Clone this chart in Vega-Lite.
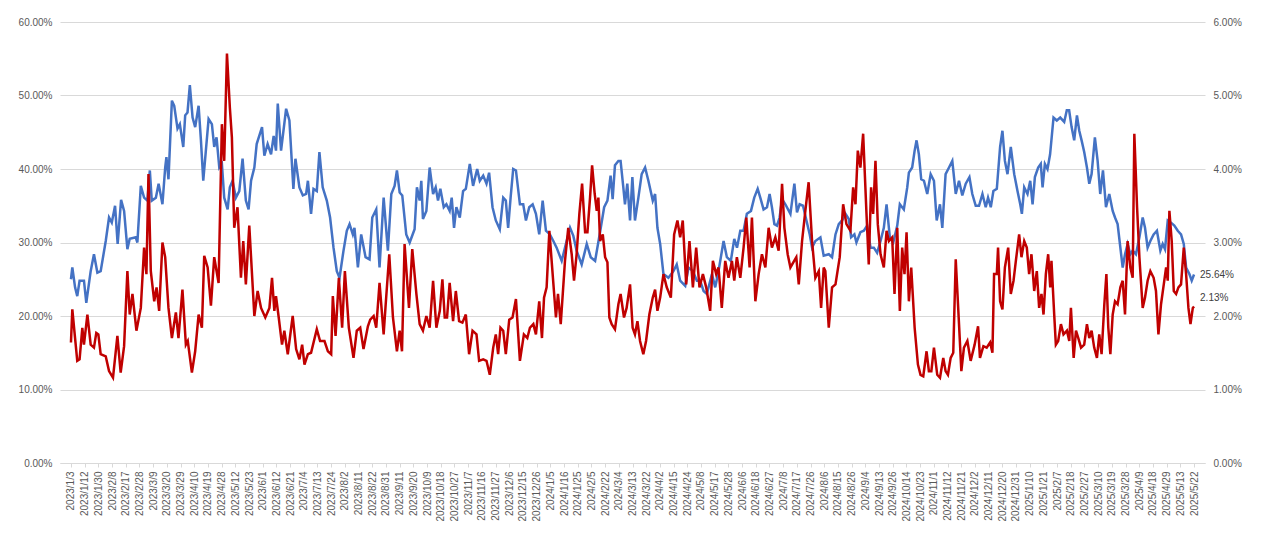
{
  "$schema": "https://vega.github.io/schema/vega-lite/v6.json",
  "width": 1145,
  "height": 441,
  "autosize": {"type": "none"},
  "padding": {"left": 60, "top": 22, "right": 75, "bottom": 81},
  "background": "white",
  "datasets": {
    "blue": [
      {"t":0,"v":25.0},{"t":0.1,"v":26.6},{"t":0.3,"v":23.9},{"t":0.46,"v":22.7},{"t":0.63,"v":24.8},{"t":0.95,"v":24.8},{"t":1.12,"v":21.8},{"t":1.44,"v":26.1},{"t":1.68,"v":28.4},{"t":1.93,"v":25.9},{"t":2.17,"v":26.1},{"t":2.54,"v":30.2},{"t":2.78,"v":33.4},{"t":2.98,"v":32.7},{"t":3.22,"v":35.0},{"t":3.41,"v":29.8},{"t":3.66,"v":35.8},{"t":3.88,"v":34.3},{"t":4.12,"v":29.1},{"t":4.29,"v":30.5},{"t":4.73,"v":30.7},{"t":4.85,"v":30.0},{"t":5.1,"v":37.7},{"t":5.34,"v":36.1},{"t":5.58,"v":35.7},{"t":5.76,"v":39.8},{"t":5.9,"v":35.7},{"t":6.2,"v":36.1},{"t":6.4,"v":38.0},{"t":6.68,"v":35.2},{"t":6.88,"v":40.2},{"t":6.97,"v":41.6},{"t":7.12,"v":38.6},{"t":7.37,"v":49.3},{"t":7.54,"v":48.6},{"t":7.78,"v":45.5},{"t":7.95,"v":46.1},{"t":8.2,"v":43.0},{"t":8.34,"v":47.3},{"t":8.51,"v":47.7},{"t":8.68,"v":51.4},{"t":8.88,"v":47.0},{"t":9.07,"v":45.7},{"t":9.32,"v":48.6},{"t":9.49,"v":43.9},{"t":9.66,"v":38.4},{"t":9.85,"v":42.5},{"t":10.05,"v":46.8},{"t":10.29,"v":46.1},{"t":10.46,"v":43.0},{"t":10.63,"v":44.3},{"t":10.83,"v":40.2},{"t":11.02,"v":40.7},{"t":11.19,"v":36.1},{"t":11.44,"v":34.5},{"t":11.6,"v":37.5},{"t":11.8,"v":38.4},{"t":12.04,"v":36.1},{"t":12.29,"v":37.0},{"t":12.53,"v":41.4},{"t":12.77,"v":35.7},{"t":12.97,"v":34.5},
      {"t":13.15,"v":38.4},{"t":13.39,"v":40.2},{"t":13.56,"v":43.4},{"t":13.95,"v":45.7},{"t":14.12,"v":41.8},{"t":14.36,"v":43.4},{"t":14.61,"v":42.0},{"t":14.8,"v":44.5},{"t":14.97,"v":42.5},{"t":15.1,"v":48.9},{"t":15.34,"v":42.5},{"t":15.71,"v":48.2},{"t":15.95,"v":46.6},{"t":16.24,"v":37.3},{"t":16.39,"v":41.4},{"t":16.68,"v":37.5},{"t":16.93,"v":36.4},{"t":17.17,"v":36.6},{"t":17.3,"v":38.4},{"t":17.53,"v":33.9},{"t":17.71,"v":37.3},{"t":17.95,"v":37.0},{"t":18.14,"v":42.3},{"t":18.38,"v":37.5},{"t":18.68,"v":35.7},{"t":18.92,"v":33.4},{"t":19.17,"v":29.3},{"t":19.41,"v":26.1},{"t":19.61,"v":25.2},{"t":19.9,"v":28.9},{"t":20.14,"v":31.6},{"t":20.34,"v":32.5},{"t":20.58,"v":31.1},{"t":20.7,"v":32.0},{"t":20.95,"v":26.6},{"t":21.19,"v":31.1},{"t":21.51,"v":28.0},{"t":21.8,"v":27.7},{"t":22.0,"v":33.4},{"t":22.29,"v":34.5},{"t":22.53,"v":26.6},{"t":22.83,"v":36.1},{"t":23.14,"v":28.9},{"t":23.39,"v":36.6},{"t":23.63,"v":37.7},{"t":23.8,"v":39.8},{"t":24.0,"v":36.8},{"t":24.19,"v":36.4},{"t":24.48,"v":31.1},{"t":24.73,"v":30.0},{"t":25.09,"v":31.8},{"t":25.26,"v":37.5},{"t":25.46,"v":35.7},{"t":25.58,"v":38.4},{"t":25.7,"v":33.2},{"t":25.95,"v":34.3},{"t":26.19,"v":40.2},
      {"t":26.44,"v":36.6},{"t":26.63,"v":37.5},{"t":26.8,"v":35.7},{"t":26.97,"v":37.3},{"t":27.22,"v":34.8},{"t":27.41,"v":35.2},{"t":27.65,"v":34.3},{"t":27.8,"v":36.1},{"t":27.97,"v":32.0},{"t":28.14,"v":34.8},{"t":28.39,"v":33.4},{"t":28.63,"v":37.0},{"t":28.83,"v":37.3},{"t":29.12,"v":40.7},{"t":29.36,"v":37.7},{"t":29.66,"v":40.0},{"t":29.85,"v":38.4},{"t":30.1,"v":39.1},{"t":30.34,"v":38.0},{"t":30.53,"v":39.5},{"t":30.78,"v":34.8},{"t":31.02,"v":33.0},{"t":31.31,"v":31.8},{"t":31.56,"v":36.1},{"t":31.75,"v":35.7},{"t":31.92,"v":32.0},{"t":32.1,"v":36.1},{"t":32.29,"v":40.0},{"t":32.49,"v":39.8},{"t":32.78,"v":35.2},{"t":33.02,"v":35.2},{"t":33.22,"v":33.0},{"t":33.46,"v":34.8},{"t":33.71,"v":35.2},{"t":33.95,"v":33.9},{"t":34.19,"v":31.1},{"t":34.44,"v":35.7},{"t":34.68,"v":31.6},{"t":34.97,"v":31.1},{"t":35.22,"v":30.2},{"t":35.46,"v":29.3},{"t":35.83,"v":27.5},{"t":36.19,"v":30.2},{"t":36.44,"v":32.0},{"t":36.68,"v":30.9},{"t":36.92,"v":28.9},{"t":37.29,"v":27.0},{"t":37.66,"v":29.8},{"t":37.95,"v":28.0},{"t":38.27,"v":27.5},{"t":38.63,"v":31.4},{"t":38.93,"v":34.8},{"t":39.17,"v":35.7},{"t":39.4,"v":39.1},
      {"t":39.55,"v":35.9},{"t":39.72,"v":40.5},{"t":39.97,"v":41.1},{"t":40.13,"v":41.1},{"t":40.33,"v":37.5},{"t":40.45,"v":35.2},{"t":40.62,"v":38.0},{"t":40.82,"v":33.0},{"t":40.99,"v":38.9},{"t":41.18,"v":33.0},{"t":41.43,"v":36.1},{"t":41.67,"v":39.3},{"t":41.92,"v":40.2},{"t":42.16,"v":38.4},{"t":42.48,"v":35.7},{"t":42.65,"v":36.6},{"t":42.82,"v":32.0},{"t":43.02,"v":29.8},{"t":43.26,"v":25.7},{"t":43.62,"v":25.2},{"t":43.99,"v":26.1},{"t":44.23,"v":27.0},{"t":44.48,"v":24.8},{"t":44.85,"v":24.1},{"t":45.09,"v":26.6},{"t":45.41,"v":26.1},{"t":45.7,"v":24.8},{"t":45.94,"v":24.8},{"t":46.19,"v":23.4},{"t":46.43,"v":23.0},{"t":46.8,"v":25.7},{"t":47.04,"v":23.9},{"t":47.28,"v":26.1},{"t":47.65,"v":30.2},{"t":47.89,"v":28.0},{"t":48.18,"v":27.5},{"t":48.43,"v":30.5},{"t":48.63,"v":29.3},{"t":48.87,"v":31.6},{"t":49.11,"v":31.6},{"t":49.35,"v":33.9},{"t":49.65,"v":34.3},{"t":49.89,"v":36.1},{"t":50.14,"v":37.3},{"t":50.33,"v":36.1},{"t":50.57,"v":34.5},{"t":50.82,"v":34.8},{"t":51.01,"v":36.6},{"t":51.18,"v":34.8},{"t":51.36,"v":32.5},{"t":51.55,"v":32.3},{"t":51.74,"v":33.4},{"t":51.92,"v":35.9},{"t":52.16,"v":35.2},{"t":52.53,"v":33.9},
      {"t":52.82,"v":38.0},{"t":53.01,"v":34.1},{"t":53.2,"v":35.2},{"t":53.45,"v":35.0},{"t":53.7,"v":33.0},{"t":53.94,"v":31.1},{"t":54.11,"v":29.3},{"t":54.35,"v":30.2},{"t":54.72,"v":30.7},{"t":54.96,"v":28.2},{"t":55.33,"v":28.4},{"t":55.57,"v":28.0},{"t":55.82,"v":31.1},{"t":56.06,"v":32.5},{"t":56.3,"v":33.0},{"t":56.55,"v":33.9},{"t":56.79,"v":33.2},{"t":56.96,"v":30.7},{"t":57.2,"v":31.1},{"t":57.35,"v":30.0},{"t":57.64,"v":31.4},{"t":57.89,"v":31.6},{"t":58.13,"v":32.3},{"t":58.38,"v":29.3},{"t":58.62,"v":29.3},{"t":58.86,"v":28.6},{"t":59.11,"v":30.2},{"t":59.35,"v":32.0},{"t":59.55,"v":35.2},{"t":59.79,"v":30.7},{"t":60.04,"v":30.0},{"t":60.33,"v":32.3},{"t":60.52,"v":35.2},{"t":60.81,"v":34.5},{"t":61.06,"v":37.5},{"t":61.18,"v":39.5},{"t":61.42,"v":40.2},{"t":61.6,"v":42.5},{"t":61.74,"v":43.9},{"t":61.91,"v":42.0},{"t":62.08,"v":38.6},{"t":62.28,"v":38.4},{"t":62.52,"v":36.6},{"t":62.77,"v":39.3},{"t":63.01,"v":38.4},{"t":63.21,"v":33.0},{"t":63.45,"v":35.2},{"t":63.62,"v":32.0},{"t":63.86,"v":39.3},{"t":64.11,"v":40.2},{"t":64.35,"v":41.1},{"t":64.6,"v":36.6},{"t":64.84,"v":38.4},{"t":65.08,"v":36.4},{"t":65.33,"v":38.0},{"t":65.6,"v":38.9},
      {"t":65.81,"v":36.6},{"t":66.06,"v":35.0},{"t":66.3,"v":35.0},{"t":66.55,"v":36.6},{"t":66.79,"v":34.8},{"t":66.96,"v":36.1},{"t":67.16,"v":34.8},{"t":67.35,"v":37.0},{"t":67.6,"v":37.3},{"t":67.84,"v":43.0},{"t":68.01,"v":45.2},{"t":68.19,"v":41.1},{"t":68.38,"v":39.3},{"t":68.62,"v":43.0},{"t":68.87,"v":39.3},{"t":69.11,"v":37.0},{"t":69.31,"v":35.2},{"t":69.43,"v":33.9},{"t":69.6,"v":37.5},{"t":69.84,"v":36.6},{"t":70.04,"v":38.4},{"t":70.21,"v":35.2},{"t":70.38,"v":38.9},{"t":70.62,"v":40.2},{"t":70.81,"v":40.7},{"t":70.94,"v":37.5},{"t":71.11,"v":40.7},{"t":71.3,"v":40.0},{"t":71.49,"v":42.0},{"t":71.74,"v":47.0},{"t":71.98,"v":46.6},{"t":72.23,"v":47.0},{"t":72.52,"v":46.4},{"t":72.71,"v":48.0},{"t":72.88,"v":48.0},{"t":73.06,"v":45.7},{"t":73.25,"v":43.9},{"t":73.45,"v":47.3},{"t":73.62,"v":45.2},{"t":73.79,"v":43.9},{"t":73.98,"v":42.3},{"t":74.18,"v":40.2},{"t":74.35,"v":38.0},{"t":74.52,"v":39.3},{"t":74.76,"v":44.3},{"t":74.96,"v":41.1},{"t":75.15,"v":36.6},{"t":75.35,"v":39.8},{"t":75.57,"v":34.8},{"t":75.81,"v":36.6},{"t":76.06,"v":34.3},{"t":76.23,"v":33.4},{"t":76.42,"v":32.5},{"t":76.62,"v":29.3},{"t":76.79,"v":26.6},{"t":76.96,"v":28.4},{"t":77.15,"v":29.8},{"t":77.35,"v":28.4},{"t":77.52,"v":28.9},{"t":77.76,"v":28.4},{"t":78.01,"v":30.7},{"t":78.25,"v":33.4},{"t":78.42,"v":32.0},{"t":78.61,"v":29.3},{"t":78.81,"v":30.2},{"t":79.05,"v":31.1},{"t":79.29,"v":31.6},{"t":79.54,"v":28.9},{"t":79.71,"v":29.8},{"t":79.88,"v":29.1},{"t":80.08,"v":33.0},{"t":80.32,"v":32.7},{"t":80.56,"v":32.3},{"t":80.81,"v":31.6},{"t":81.05,"v":31.1},{"t":81.25,"v":29.8},{"t":81.42,"v":26.6},{"t":81.66,"v":25.7},{"t":81.83,"v":24.8},{"t":82.0,"v":25.64}
    ],
    "red": [
      {"t":0,"v":1.64},{"t":0.1,"v":2.09},{"t":0.3,"v":1.70},{"t":0.46,"v":1.39},{"t":0.63,"v":1.41},{"t":0.83,"v":1.84},{"t":0.95,"v":1.61},{"t":1.2,"v":2.02},{"t":1.44,"v":1.61},{"t":1.68,"v":1.57},{"t":1.85,"v":1.77},{"t":2.0,"v":1.75},{"t":2.17,"v":1.48},{"t":2.54,"v":1.45},{"t":2.78,"v":1.25},{"t":3.07,"v":1.16},{"t":3.39,"v":1.73},{"t":3.63,"v":1.23},{"t":3.88,"v":1.59},{"t":4.12,"v":2.61},{"t":4.29,"v":2.02},{"t":4.49,"v":2.30},{"t":4.78,"v":1.80},{"t":5.1,"v":2.11},{"t":5.34,"v":2.93},{"t":5.51,"v":2.57},{"t":5.66,"v":3.93},{"t":5.83,"v":2.61},{"t":6.08,"v":2.20},{"t":6.25,"v":2.39},{"t":6.44,"v":2.07},{"t":6.68,"v":3.0},{"t":6.88,"v":2.80},{"t":7.12,"v":2.11},{"t":7.37,"v":1.70},{"t":7.66,"v":2.05},{"t":7.85,"v":1.70},{"t":8.14,"v":2.36},{"t":8.39,"v":1.61},{"t":8.53,"v":1.66},{"t":8.83,"v":1.23},{"t":9.07,"v":1.52},{"t":9.32,"v":2.02},{"t":9.56,"v":1.84},{"t":9.73,"v":2.82},{"t":9.98,"v":2.66},{"t":10.22,"v":2.14},{"t":10.46,"v":2.80},{"t":10.78,"v":2.45},{"t":11.02,"v":4.61},{"t":11.19,"v":4.11},{"t":11.39,"v":5.57},{"t":11.6,"v":4.84},{"t":11.75,"v":4.43},{"t":11.92,"v":3.20},{"t":12.16,"v":3.48},{"t":12.41,"v":2.52},{"t":12.58,"v":3.02},{"t":12.77,"v":2.43},{"t":13.02,"v":3.23},
      {"t":13.39,"v":2.0},{"t":13.63,"v":2.34},{"t":13.88,"v":2.11},{"t":14.19,"v":1.98},{"t":14.49,"v":2.11},{"t":14.68,"v":2.52},{"t":14.85,"v":2.07},{"t":14.97,"v":2.27},{"t":15.17,"v":1.98},{"t":15.41,"v":1.61},{"t":15.58,"v":1.80},{"t":15.83,"v":1.48},{"t":16.19,"v":2.0},{"t":16.44,"v":1.55},{"t":16.68,"v":1.41},{"t":16.88,"v":1.61},{"t":17.05,"v":1.34},{"t":17.3,"v":1.48},{"t":17.53,"v":1.50},{"t":17.95,"v":1.82},{"t":18.19,"v":1.66},{"t":18.51,"v":1.66},{"t":18.76,"v":1.52},{"t":19.0,"v":1.48},{"t":19.12,"v":2.27},{"t":19.32,"v":1.73},{"t":19.56,"v":2.52},{"t":19.8,"v":1.84},{"t":20.0,"v":2.61},{"t":20.29,"v":1.84},{"t":20.63,"v":1.43},{"t":20.87,"v":1.80},{"t":21.12,"v":1.84},{"t":21.36,"v":1.55},{"t":21.68,"v":1.86},{"t":21.85,"v":1.95},{"t":22.1,"v":2.0},{"t":22.29,"v":1.84},{"t":22.53,"v":2.45},{"t":22.83,"v":1.75},{"t":22.98,"v":2.16},{"t":23.24,"v":2.84},{"t":23.51,"v":1.98},{"t":23.8,"v":1.52},{"t":24.0,"v":1.80},{"t":24.17,"v":1.52},{"t":24.36,"v":2.98},{"t":24.68,"v":2.11},{"t":24.92,"v":2.91},{"t":25.22,"v":2.30},{"t":25.46,"v":1.89},{"t":25.7,"v":1.80},{"t":25.95,"v":2.0},{"t":26.19,"v":1.84},
      {"t":26.44,"v":2.48},{"t":26.68,"v":1.84},{"t":26.93,"v":2.07},{"t":27.12,"v":2.50},{"t":27.29,"v":1.98},{"t":27.46,"v":1.98},{"t":27.65,"v":2.45},{"t":27.9,"v":1.93},{"t":28.1,"v":2.34},{"t":28.34,"v":1.93},{"t":28.58,"v":1.91},{"t":28.83,"v":2.02},{"t":29.07,"v":1.48},{"t":29.32,"v":1.80},{"t":29.61,"v":1.75},{"t":29.8,"v":1.39},{"t":30.1,"v":1.41},{"t":30.34,"v":1.39},{"t":30.58,"v":1.20},{"t":30.83,"v":1.57},{"t":31.02,"v":1.75},{"t":31.19,"v":1.48},{"t":31.36,"v":1.84},{"t":31.56,"v":1.80},{"t":31.75,"v":1.48},{"t":32.0,"v":1.95},{"t":32.24,"v":1.98},{"t":32.49,"v":2.23},{"t":32.78,"v":1.39},{"t":33.07,"v":1.75},{"t":33.32,"v":1.70},{"t":33.51,"v":1.84},{"t":33.76,"v":1.89},{"t":33.95,"v":1.75},{"t":34.19,"v":2.20},{"t":34.39,"v":1.70},{"t":34.54,"v":2.25},{"t":34.73,"v":2.39},{"t":34.93,"v":3.16},{"t":35.17,"v":2.57},{"t":35.41,"v":1.98},{"t":35.56,"v":2.30},{"t":35.76,"v":1.89},{"t":36.07,"v":2.75},{"t":36.31,"v":3.20},{"t":36.56,"v":2.84},{"t":36.73,"v":2.48},{"t":36.92,"v":2.84},{"t":37.12,"v":3.39},{"t":37.32,"v":3.80},{"t":37.54,"v":3.14},{"t":37.71,"v":3.14},{"t":37.9,"v":3.61},{"t":38.05,"v":4.05},{"t":38.24,"v":3.66},{"t":38.39,"v":3.43},{"t":38.51,"v":3.61},{"t":38.63,"v":3.02},{"t":38.83,"v":3.11},{"t":39.0,"v":2.80},{"t":39.17,"v":2.73},{"t":39.31,"v":1.98},
      {"t":39.48,"v":1.89},{"t":39.72,"v":1.82},{"t":39.97,"v":2.16},{"t":40.13,"v":2.30},{"t":40.38,"v":1.98},{"t":40.57,"v":2.11},{"t":40.82,"v":2.43},{"t":41.01,"v":1.84},{"t":41.18,"v":1.75},{"t":41.36,"v":1.93},{"t":41.55,"v":1.66},{"t":41.79,"v":1.48},{"t":41.99,"v":1.66},{"t":42.23,"v":2.02},{"t":42.48,"v":2.25},{"t":42.65,"v":2.36},{"t":42.82,"v":2.07},{"t":43.02,"v":2.25},{"t":43.26,"v":2.57},{"t":43.5,"v":2.39},{"t":43.8,"v":2.25},{"t":44.04,"v":3.11},{"t":44.28,"v":3.30},{"t":44.48,"v":3.07},{"t":44.67,"v":3.30},{"t":44.92,"v":2.43},{"t":45.16,"v":3.02},{"t":45.41,"v":2.39},{"t":45.65,"v":2.93},{"t":45.89,"v":2.39},{"t":46.14,"v":2.57},{"t":46.38,"v":2.39},{"t":46.67,"v":2.07},{"t":46.87,"v":2.75},{"t":47.11,"v":2.57},{"t":47.28,"v":2.66},{"t":47.52,"v":2.11},{"t":47.77,"v":2.75},{"t":48.01,"v":2.52},{"t":48.26,"v":2.75},{"t":48.43,"v":2.48},{"t":48.62,"v":2.80},{"t":48.87,"v":2.52},{"t":49.11,"v":2.93},{"t":49.31,"v":3.34},{"t":49.55,"v":2.66},{"t":49.72,"v":3.34},{"t":49.97,"v":2.20},{"t":50.21,"v":2.57},{"t":50.45,"v":2.84},{"t":50.7,"v":2.66},{"t":50.94,"v":3.20},{"t":51.18,"v":2.93},{"t":51.43,"v":3.07},{"t":51.67,"v":2.89},{"t":51.92,"v":3.80},{"t":52.09,"v":3.20},{"t":52.33,"v":2.84},{"t":52.53,"v":2.66},
      {"t":52.96,"v":2.80},{"t":53.14,"v":2.43},{"t":53.38,"v":3.02},{"t":53.62,"v":3.43},{"t":53.86,"v":3.82},{"t":54.11,"v":3.02},{"t":54.35,"v":2.52},{"t":54.6,"v":2.61},{"t":54.77,"v":2.11},{"t":54.96,"v":2.66},{"t":55.08,"v":2.61},{"t":55.33,"v":1.84},{"t":55.57,"v":2.39},{"t":55.82,"v":2.43},{"t":56.13,"v":2.80},{"t":56.38,"v":3.52},{"t":56.62,"v":3.25},{"t":56.91,"v":3.16},{"t":57.11,"v":3.75},{"t":57.28,"v":3.52},{"t":57.45,"v":4.25},{"t":57.64,"v":4.02},{"t":57.84,"v":4.48},{"t":58.08,"v":3.41},{"t":58.25,"v":2.70},{"t":58.42,"v":3.75},{"t":58.57,"v":3.39},{"t":58.74,"v":4.11},{"t":58.91,"v":3.25},{"t":59.11,"v":2.84},{"t":59.35,"v":2.66},{"t":59.55,"v":3.16},{"t":59.72,"v":3.02},{"t":59.96,"v":3.07},{"t":60.13,"v":2.30},{"t":60.33,"v":3.20},{"t":60.52,"v":2.07},{"t":60.69,"v":2.93},{"t":60.86,"v":2.57},{"t":61.01,"v":3.14},{"t":61.18,"v":2.20},{"t":61.35,"v":2.66},{"t":61.6,"v":1.84},{"t":61.84,"v":1.34},{"t":62.03,"v":1.20},{"t":62.23,"v":1.18},{"t":62.47,"v":1.52},{"t":62.64,"v":1.25},{"t":62.82,"v":1.25},{"t":63.01,"v":1.57},{"t":63.25,"v":1.20},{"t":63.45,"v":1.16},{"t":63.69,"v":1.43},{"t":63.86,"v":1.25},{"t":64.03,"v":1.20},{"t":64.23,"v":1.43},{"t":64.42,"v":1.50},{"t":64.6,"v":2.77},{"t":64.84,"v":1.89},{"t":65.01,"v":1.25},{"t":65.2,"v":1.57},{"t":65.45,"v":1.66},{"t":65.69,"v":1.39},
      {"t":65.98,"v":1.61},{"t":66.23,"v":1.86},{"t":66.37,"v":1.43},{"t":66.62,"v":1.59},{"t":66.86,"v":1.57},{"t":67.11,"v":1.64},{"t":67.28,"v":1.50},{"t":67.4,"v":2.57},{"t":67.6,"v":2.57},{"t":67.69,"v":2.93},{"t":67.84,"v":2.20},{"t":68.01,"v":2.09},{"t":68.19,"v":2.66},{"t":68.43,"v":2.93},{"t":68.62,"v":2.30},{"t":68.82,"v":2.48},{"t":68.99,"v":2.75},{"t":69.23,"v":3.11},{"t":69.4,"v":2.80},{"t":69.6,"v":3.02},{"t":69.79,"v":2.93},{"t":69.96,"v":2.57},{"t":70.13,"v":2.84},{"t":70.33,"v":2.34},{"t":70.52,"v":2.61},{"t":70.69,"v":2.11},{"t":70.86,"v":2.30},{"t":71.01,"v":2.02},{"t":71.18,"v":2.57},{"t":71.35,"v":2.84},{"t":71.5,"v":2.39},{"t":71.59,"v":2.75},{"t":71.79,"v":2.02},{"t":71.91,"v":1.61},{"t":72.08,"v":1.66},{"t":72.28,"v":1.89},{"t":72.47,"v":1.75},{"t":72.72,"v":1.80},{"t":72.89,"v":1.66},{"t":73.01,"v":2.11},{"t":73.21,"v":1.43},{"t":73.38,"v":1.80},{"t":73.55,"v":1.70},{"t":73.75,"v":1.57},{"t":73.98,"v":1.61},{"t":74.18,"v":1.89},{"t":74.35,"v":1.70},{"t":74.52,"v":1.80},{"t":74.71,"v":1.57},{"t":74.91,"v":1.43},{"t":75.08,"v":1.75},{"t":75.25,"v":1.48},{"t":75.45,"v":2.16},{"t":75.6,"v":2.57},{"t":75.74,"v":1.84},{"t":75.89,"v":1.48},{"t":76.06,"v":2.02},{"t":76.23,"v":2.20},{"t":76.42,"v":2.16},{"t":76.62,"v":2.39},{"t":76.79,"v":2.48},{"t":76.96,"v":2.02},{"t":77.15,"v":3.02},{"t":77.35,"v":2.66},{"t":77.52,"v":2.52},{"t":77.64,"v":4.48},{"t":77.84,"v":3.48},{"t":78.01,"v":2.80},{"t":78.25,"v":2.11},{"t":78.42,"v":2.25},{"t":78.61,"v":2.48},{"t":78.81,"v":2.61},{"t":79.05,"v":2.52},{"t":79.22,"v":2.34},{"t":79.4,"v":1.75},{"t":79.59,"v":2.16},{"t":79.79,"v":2.43},{"t":79.96,"v":2.66},{"t":80.08,"v":2.48},{"t":80.2,"v":3.43},{"t":80.37,"v":3.02},{"t":80.52,"v":2.34},{"t":80.69,"v":2.30},{"t":80.86,"v":2.39},{"t":81.05,"v":2.43},{"t":81.25,"v":2.93},{"t":81.42,"v":2.57},{"t":81.59,"v":2.11},{"t":81.74,"v":1.89},{"t":81.91,"v":2.11},{"t":82.0,"v":2.13}
    ],
    "endBlue": [{"t": 82.0, "v": 25.64, "lab": "25.64%"}],
    "endRed": [{"t": 82.0, "v": 2.13, "lab": "2.13%"}]
  },
  "encoding": {
    "x": {
      "field": "t",
      "type": "quantitative",
      "scale": {"domain": [-0.8, 82.8], "nice": false, "zero": false},
      "axis": {
        "title": null,
        "values": [0,1,2,3,4,5,6,7,8,9,10,11,12,13,14,15,16,17,18,19,20,21,22,23,24,25,26,27,28,29,30,31,32,33,34,35,36,37,38,39,40,41,42,43,44,45,46,47,48,49,50,51,52,53,54,55,56,57,58,59,60,61,62,63,64,65,66,67,68,69,70,71,72,73,74,75,76,77,78,79,80,81,82],
        "labelExpr": "['2023/1/3','2023/1/12','2023/1/30','2023/2/8','2023/2/17','2023/2/28','2023/3/9','2023/3/20','2023/3/29','2023/4/10','2023/4/19','2023/4/28','2023/5/12','2023/5/23','2023/6/1','2023/6/12','2023/6/21','2023/7/4','2023/7/13','2023/7/24','2023/8/2','2023/8/11','2023/8/22','2023/8/31','2023/9/11','2023/9/20','2023/10/9','2023/10/18','2023/10/27','2023/11/7','2023/11/16','2023/11/27','2023/12/6','2023/12/15','2023/12/26','2024/1/5','2024/1/16','2024/1/25','2024/2/5','2024/2/22','2024/3/4','2024/3/13','2024/3/22','2024/4/2','2024/4/15','2024/4/24','2024/5/8','2024/5/17','2024/5/28','2024/6/6','2024/6/18','2024/6/27','2024/7/8','2024/7/17','2024/7/26','2024/8/6','2024/8/15','2024/8/26','2024/9/4','2024/9/13','2024/9/26','2024/10/14','2024/10/23','2024/11/1','2024/11/12','2024/11/21','2024/12/2','2024/12/11','2024/12/20','2024/12/31','2025/1/10','2025/1/21','2025/2/7','2025/2/18','2025/2/27','2025/3/10','2025/3/19','2025/3/28','2025/4/9','2025/4/18','2025/4/29','2025/5/13','2025/5/22'][datum.value]",
        "labelAngle": -90,
        "labelAlign": "right",
        "labelBaseline": "middle",
        "labelFontSize": 10,
        "labelColor": "#595959",
        "labelPadding": 4,
        "labelOverlap": false,
        "labelFlush": false,
        "grid": false,
        "domainColor": "#d9d9d9",
        "tickColor": "#d9d9d9",
        "tickSize": 4
      }
    }
  },
  "layer": [
    {
      "data": {"name": "blue"},
      "mark": {"type": "line", "color": "#4472C4", "strokeWidth": 2.5},
      "encoding": {
        "y": {
          "field": "v", "type": "quantitative",
          "scale": {"domain": [0, 60], "nice": false},
          "axis": {"title": null, "orient": "left", "values": [0,10,20,30,40,50,60], "labelExpr": "format(datum.value, '.2f') + '%'", "labelFontSize": 10, "labelColor": "#595959", "domain": false, "ticks": false, "labelPadding": 8, "gridColor": "#d9d9d9"}
        }
      }
    },
    {
      "data": {"name": "red"},
      "mark": {"type": "line", "color": "#C00000", "strokeWidth": 2.5},
      "encoding": {
        "y": {
          "field": "v", "type": "quantitative",
          "scale": {"domain": [0, 6], "nice": false},
          "axis": {"title": null, "orient": "right", "values": [0,1,2,3,4,5,6], "labelExpr": "format(datum.value, '.2f') + '%'", "labelFontSize": 10, "labelColor": "#595959", "domain": false, "ticks": false, "grid": false, "labelPadding": 8}
        }
      }
    },
    {
      "data": {"name": "endBlue"},
      "mark": {"type": "text", "align": "left", "dx": 6, "fontSize": 10, "color": "#404040"},
      "encoding": {
        "y": {"field": "v", "type": "quantitative", "scale": {"domain": [0, 60], "nice": false}, "axis": null},
        "text": {"field": "lab"}
      }
    },
    {
      "data": {"name": "endRed"},
      "mark": {"type": "text", "align": "left", "dx": 6, "dy": -8, "fontSize": 10, "color": "#404040"},
      "encoding": {
        "y": {"field": "v", "type": "quantitative", "scale": {"domain": [0, 6], "nice": false}, "axis": null},
        "text": {"field": "lab"}
      }
    }
  ],
  "resolve": {"scale": {"y": "independent"}},
  "config": {
    "font": "Liberation Sans",
    "view": {"stroke": null}
  }
}
